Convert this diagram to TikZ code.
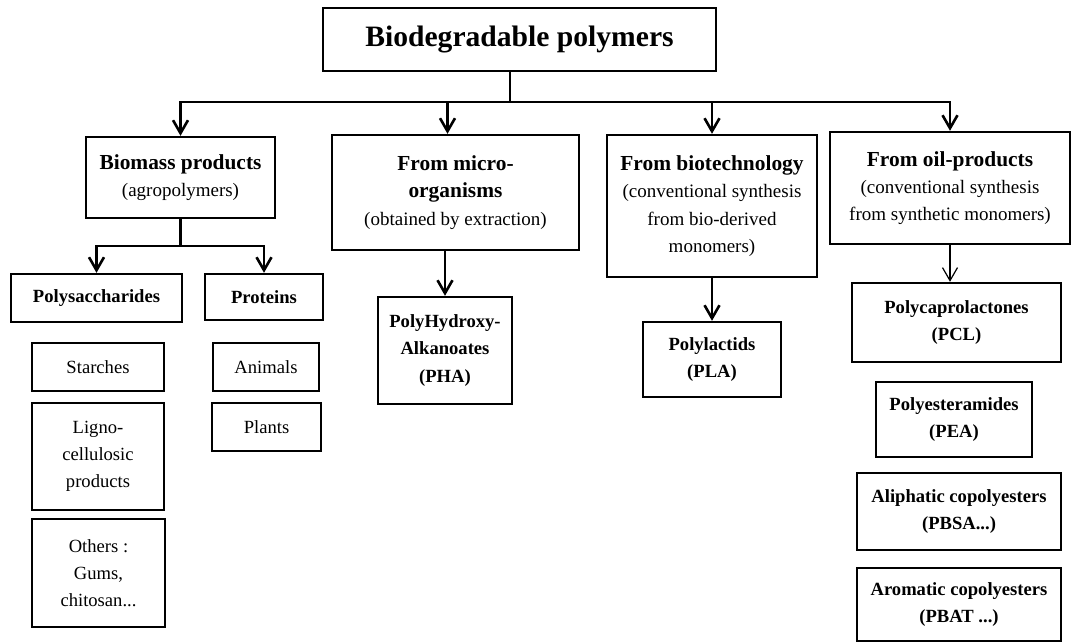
\documentclass[tikz,border=0pt]{standalone}
\usepackage{fontspec}
\setmainfont{Liberation Serif}
\usepackage{tikz}
\usetikzlibrary{arrows.meta, positioning}

\newcommand{\headtxt}[1]{{\fontsize{10.7}{15}\selectfont\bfseries #1}}
\newcommand{\subtxt}[1]{{\fontsize{9.5}{13.5}\selectfont #1}}

\tikzset{
  box/.style={draw, line width=1.2pt, align=center, inner sep=0pt,
    font=\fontsize{9.3}{13.6}\selectfont},
  leaf/.style={box, font=\fontsize{9.3}{13.6}\selectfont\bfseries},
  link/.style={line width=1.3pt},
  arr/.style={link, -{Straight Barb[length=6.5pt,width=7.5pt]}},
}

\begin{document}
\begin{tikzpicture}[x=0.5pt, y=-0.5pt]

  \useasboundingbox (0,0) rectangle (1076,643);

  % --- Top ---
  \node[box, minimum width=196.5pt, minimum height=31.5pt,
    font=\fontsize{14.8}{18}\selectfont\bfseries] (title) at (519.5,39.5)
    {Biodegradable polymers};

  % --- Main groups ---
  \node[box, minimum width=94.5pt, minimum height=40.5pt] (bio) at (180.5,177.5)
    {\headtxt{Biomass products}\\\subtxt{(agropolymers)}};
  \node[box, minimum width=123.5pt, minimum height=57.5pt] (micro) at (455.5,192.5)
    {\headtxt{From micro-}\\\headtxt{organisms}\\\subtxt{(obtained by extraction)}};
  \node[box, minimum width=105pt, minimum height=71pt] (biot) at (712,206)
    {\headtxt{From biotechnology}\\\subtxt{(conventional synthesis}\\
     \subtxt{from bio-derived}\\\subtxt{monomers)}};
  \node[box, minimum width=120pt, minimum height=56pt] (oil) at (950,188)
    {\headtxt{From oil-products}\\\subtxt{(conventional synthesis}\\
     \subtxt{from synthetic monomers)}};

  % --- Biomass products ---
  \node[leaf, minimum width=85.5pt, minimum height=24pt] (poly) at (96.5,298) {Polysaccharides};
  \node[leaf, minimum width=59pt, minimum height=23pt] (prot) at (264,297) {Proteins};

  \node[box, minimum width=66pt, minimum height=24pt] (starch) at (98,367) {Starches};
  \node[box, minimum width=66pt, minimum height=53.5pt] (ligno) at (98,456.5)
    {Ligno-\\cellulosic\\products};
  \node[box, minimum width=66.5pt, minimum height=54pt] (others) at (98.5,573)
    {Others :\\Gums,\\chitosan...};
  \node[box, minimum width=53pt, minimum height=24pt] (animals) at (266,367) {Animals};
  \node[box, minimum width=54.5pt, minimum height=24pt] (plants) at (266.5,427) {Plants};

  % --- Micro-organisms and biotechnology ---
  \node[leaf, minimum width=67pt, minimum height=53.5pt] (pha) at (445,350.5)
    {PolyHydroxy-\\Alkanoates\\(PHA)};
  \node[leaf, minimum width=69pt, minimum height=37.5pt] (pla) at (712,359.5)
    {Polylactids\\(PLA)};

  % --- Oil-products ---
  \node[leaf, minimum width=104.5pt, minimum height=39.5pt] (pcl) at (956.5,322.5)
    {Polycaprolactones\\(PCL)};
  \node[leaf, minimum width=78pt, minimum height=37.5pt] (pea) at (954,419.5)
    {Polyesteramides\\(PEA)};
  \node[leaf, minimum width=102pt, minimum height=38.5pt] (ali) at (959,511.5)
    {Aliphatic copolyesters\\(PBSA...)};
  \node[leaf, minimum width=102pt, minimum height=36.5pt] (aro) at (959,604.5)
    {Aromatic copolyesters\\(PBAT ...)};

  % --- Connectors ---
  \coordinate (split) at (510,102);
  \draw[link] (title.south -| split) -- (split);
  \draw[arr] (split) -| (bio.north);
  \draw[arr] (split) -| ([xshift=-4pt]micro.north);
  \draw[arr] (split) -| (biot.north);
  \draw[arr] (split) -| (oil.north);

  \coordinate (biosplit) at (180.5,246);
  \draw[link] (bio.south) -- (biosplit);
  \draw[arr] (biosplit) -| (poly.north);
  \draw[arr] (biosplit) -| (prot.north);

  \draw[arr] (micro.south -| pha.north) -- (pha.north);
  \draw[arr] (biot.south) -- (pla.north);
  \draw[arr, line width=0.6pt] (oil.south) -- (oil.south |- pcl.north);

\end{tikzpicture}
\end{document}
